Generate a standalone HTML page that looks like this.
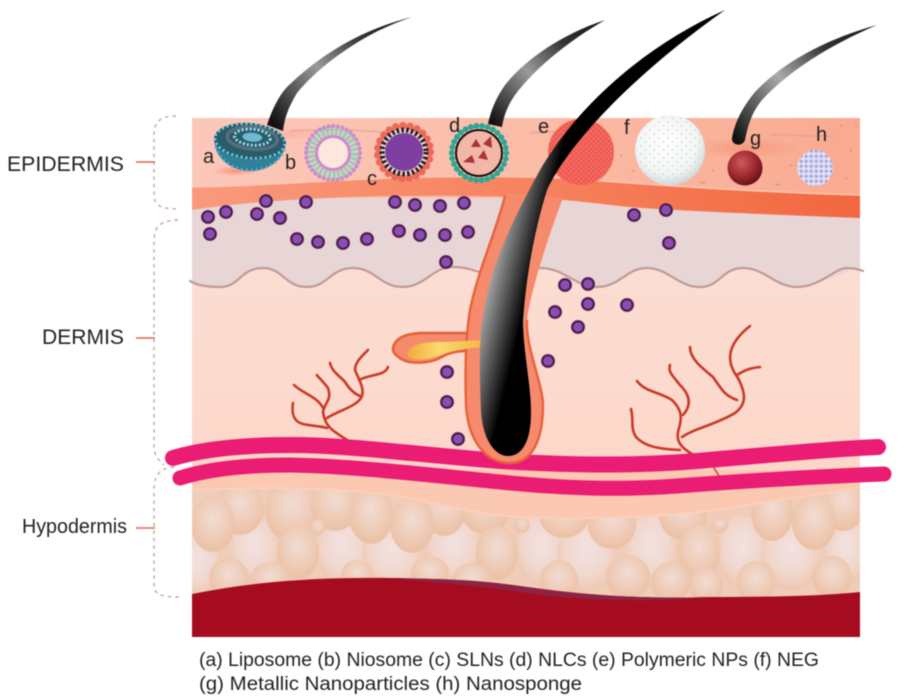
<!DOCTYPE html>
<html><head><meta charset="utf-8"><style>
html,body{margin:0;padding:0;background:#fff;width:900px;height:700px;overflow:hidden}
svg{display:block;filter:blur(.45px)}
text{font-family:"Liberation Sans",sans-serif;fill:#222}
</style></head><body>
<svg width="900" height="700" viewBox="0 0 900 700" xmlns="http://www.w3.org/2000/svg">
<defs>
<linearGradient id="ep" x1="0" y1="0" x2="1" y2="0"><stop offset="0" stop-color="#fcc8ba"/><stop offset=".5" stop-color="#fbbda8"/><stop offset="1" stop-color="#f9aa90"/></linearGradient>
<linearGradient id="band" x1="0" y1="0" x2="1" y2="0"><stop offset="0" stop-color="#f99a7c"/><stop offset=".5" stop-color="#f7835f"/><stop offset="1" stop-color="#f2673f"/></linearGradient>
<linearGradient id="der" x1="0" y1="0" x2="0" y2="1"><stop offset="0" stop-color="#fde0d7"/><stop offset="1" stop-color="#fcd6c7"/></linearGradient>
<radialGradient id="b" cx=".5" cy=".4" r=".55"><stop offset="0" stop-color="#f2dcd4"/><stop offset=".6" stop-color="#efcdb9"/><stop offset="1" stop-color="#ecc2a7"/></radialGradient>
<radialGradient id="b2" cx=".5" cy=".42" r=".55"><stop offset="0" stop-color="#f3e2e2"/><stop offset=".65" stop-color="#f1d7cd"/><stop offset="1" stop-color="#eec9b3"/></radialGradient>
<linearGradient id="hair" gradientUnits="userSpaceOnUse" x1="474" y1="335" x2="516" y2="345"><stop offset="0" stop-color="#aeaeae"/><stop offset=".4" stop-color="#6a6a6a"/><stop offset="1" stop-color="#000"/></linearGradient>
<linearGradient id="h1" gradientUnits="userSpaceOnUse" x1="275" y1="125" x2="410" y2="17"><stop offset="0" stop-color="#111"/><stop offset=".4" stop-color="#999"/><stop offset=".7" stop-color="#333"/><stop offset="1" stop-color="#111"/></linearGradient>
<linearGradient id="h2" gradientUnits="userSpaceOnUse" x1="495" y1="125" x2="605" y2="20"><stop offset="0" stop-color="#111"/><stop offset=".4" stop-color="#999"/><stop offset=".7" stop-color="#333"/><stop offset="1" stop-color="#111"/></linearGradient>
<linearGradient id="h3" gradientUnits="userSpaceOnUse" x1="737" y1="140" x2="877" y2="25"><stop offset="0" stop-color="#111"/><stop offset=".4" stop-color="#aaa"/><stop offset=".7" stop-color="#333"/><stop offset="1" stop-color="#111"/></linearGradient>
<linearGradient id="gl" x1="0" y1="0" x2="1" y2="0"><stop offset="0" stop-color="#f4a93a"/><stop offset=".4" stop-color="#fbd96f"/><stop offset="1" stop-color="#f5b642"/></linearGradient>
<radialGradient id="gball" cx=".4" cy=".35" r=".7"><stop offset="0" stop-color="#d0595c"/><stop offset=".55" stop-color="#a12a30"/><stop offset="1" stop-color="#5f0d14"/></radialGradient>
<radialGradient id="golf" cx=".45" cy=".4" r=".62"><stop offset="0" stop-color="#fff"/><stop offset=".7" stop-color="#f3f5f5"/><stop offset="1" stop-color="#cfd8da"/></radialGradient>
<pattern id="gd" width="9" height="8" patternUnits="userSpaceOnUse"><circle cx="2" cy="2" r=".9" fill="#cfd6da"/><circle cx="6.5" cy="6" r=".9" fill="#cfd6da"/></pattern>
<pattern id="rd" width="5" height="5" patternUnits="userSpaceOnUse"><rect width="5" height="5" fill="#ef5a50"/><circle cx="1.2" cy="1.2" r=".9" fill="#f6817a"/><circle cx="3.7" cy="3.7" r=".9" fill="#f6817a"/></pattern>
<pattern id="bd" width="5" height="5" patternUnits="userSpaceOnUse"><rect width="5" height="5" fill="#d3d2ef"/><circle cx="1.2" cy="1.2" r="1" fill="#7f82d2"/><circle cx="3.7" cy="3.7" r="1" fill="#f4f2fb"/></pattern>
<clipPath id="fat"><path d="M192,490 C280,486 340,489 390,495 C450,505 480,517 540,518 C620,520 700,515 760,503 L860,488 L860,600 L192,600Z"/></clipPath>
<radialGradient id="glow"><stop offset="0" stop-color="#f2684a" stop-opacity=".55"/><stop offset="1" stop-color="#f2684a" stop-opacity="0"/></radialGradient>
<g id="p"><circle r="7.4" fill="#c9857f" opacity=".5"/><circle r="5.8" fill="#8a4db0" stroke="#46194f" stroke-width="2"/></g>
</defs>

<!-- dermis base -->
<rect x="192" y="190" width="668" height="320" fill="url(#der)"/>
<!-- hypodermis -->
<rect x="192" y="470" width="668" height="130" fill="#fbc9b1"/>
<g clip-path="url(#fat)">
<rect x="192" y="480" width="668" height="125" fill="#efcdb9"/>
<g fill="url(#b2)">
<ellipse cx="254" cy="550" rx="25" ry="34"/><ellipse cx="343" cy="550" rx="27" ry="36"/><ellipse cx="392" cy="555" rx="30" ry="36"/><ellipse cx="453" cy="548" rx="27" ry="36"/><ellipse cx="541" cy="550" rx="25" ry="36"/><ellipse cx="587" cy="555" rx="30" ry="38"/><ellipse cx="651" cy="550" rx="26" ry="36"/><ellipse cx="742" cy="552" rx="25" ry="36"/><ellipse cx="791" cy="555" rx="30" ry="36"/><ellipse cx="846" cy="550" rx="22" ry="35"/><ellipse cx="196" cy="565" rx="25" ry="32"/>
</g>
<g fill="url(#b)">
<ellipse cx="240" cy="508" rx="24" ry="27"/><ellipse cx="292" cy="510" rx="27" ry="32"/><ellipse cx="335" cy="505" rx="24" ry="26"/><ellipse cx="371" cy="515" rx="22" ry="29"/><ellipse cx="444" cy="510" rx="22" ry="26"/><ellipse cx="485" cy="510" rx="24" ry="24"/><ellipse cx="564" cy="515" rx="25" ry="23"/><ellipse cx="683" cy="515" rx="24" ry="25"/><ellipse cx="772" cy="513" rx="21" ry="28"/><ellipse cx="843" cy="505" rx="22" ry="26"/><ellipse cx="318" cy="527" rx="8" ry="8"/><ellipse cx="522" cy="525" rx="8" ry="8"/><ellipse cx="720" cy="525" rx="8" ry="8"/>
<ellipse cx="213" cy="524" rx="22" ry="28"/><ellipse cx="412" cy="525" rx="22" ry="28"/><ellipse cx="612" cy="525" rx="24" ry="24"/><ellipse cx="814" cy="522" rx="22" ry="28"/>
<ellipse cx="298" cy="552" rx="21" ry="27"/><ellipse cx="497" cy="553" rx="21" ry="27"/><ellipse cx="699" cy="552" rx="21" ry="28"/>
<ellipse cx="229" cy="578" rx="20" ry="20"/><ellipse cx="270" cy="580" rx="20" ry="18"/><ellipse cx="357" cy="575" rx="16" ry="15"/><ellipse cx="430" cy="573" rx="19" ry="17"/><ellipse cx="472" cy="580" rx="20" ry="17"/><ellipse cx="559" cy="580" rx="19" ry="20"/><ellipse cx="628" cy="577" rx="22" ry="22"/><ellipse cx="671" cy="582" rx="20" ry="20"/><ellipse cx="706" cy="585" rx="17" ry="18"/><ellipse cx="756" cy="582" rx="20" ry="21"/><ellipse cx="832" cy="577" rx="20" ry="21"/>
</g></g>
<path d="M192,490 C280,486 340,489 390,495 C450,505 480,517 540,518 C620,520 700,515 760,503 L860,488" fill="none" stroke="#fdd2bd" stroke-width="1.5"/>
<!-- dark red -->
<path d="M192,594 C260,580 330,577 390,578 C450,579 480,580 527,587 C590,596 650,599 710,597 C770,597 820,596 860,592 L860,637 L192,637Z" fill="#a60c20"/>
<path d="M390,578 C450,579 480,580 527,587 C590,596 650,599 710,597 C660,602 590,602 527,593 C480,586 440,583 390,578Z" fill="#8c2344"/>

<!-- gray layer -->
<path d="M192,205 C280,198 400,194 500,195 C600,198 700,210 860,215 L860,269 C848,268 820,287 797,287 C775,287 765,268 743,268 C722,268 720,287 700,287 C678,287 668,268 647,268 C626,268 620,287 597,287 C575,287 565,268 543,268 L453,268 C432,268 425,287 403,287 C380,287 375,268 353,268 C330,268 328,287 307,287 C285,287 283,268 263,268 C240,268 240,287 220,287 C205,287 197,285 192,281Z" fill="#e8d6d7"/>
<path d="M190,281 C197,285 205,287 220,287 C240,287 240,268 263,268 C283,268 285,287 307,287 C328,287 330,268 353,268 C375,268 380,287 403,287 C425,287 432,267 453,267 C465,267 472,270 480,272 M540,268 C565,268 575,287 597,287 C620,287 626,268 647,268 C668,268 678,287 700,287 C720,287 722,268 743,268 C765,268 775,287 797,287 C820,287 835,268 847,268 C853,268 858,269 863,271" fill="none" stroke="#bf9a96" stroke-width="2.2" stroke-linecap="round"/>

<!-- epidermis -->
<rect x="192" y="118" width="668" height="80" fill="url(#ep)"/>
<ellipse cx="745" cy="148" rx="55" ry="11" fill="url(#glow)" opacity=".6"/>
<ellipse cx="290" cy="134" rx="40" ry="6" fill="url(#glow)" opacity=".3"/>
<path d="M530,133 C560,130 590,133 610,134 M770,135 C790,134 810,137 835,136 M290,131 C320,129 360,130 380,132" stroke="#d89a88" stroke-width="1.5" fill="none" opacity=".6"/>
<path d="M700,182 L705,183 M775,184 L780,185 M790,165 L792,166 M845,178 L847,179 M850,150 L852,151 M712,170 L714,171 M632,170 L634,171 M620,155 L622,156 M855,125 L857,126 M840,125 L842,126 M700,135 L702,135" stroke="#e98a70" stroke-width="1.4"/>
<!-- band -->
<path d="M192,187 C260,186 330,180 390,178 C450,176 510,176 563,178 C640,184 750,192 860,195 L860,218 C760,214 680,211 630,207 C600,204 580,201 540,198 C470,195 420,196 390,196 C330,197 250,201 192,210Z" fill="url(#band)"/>
<path d="M192,187 C260,186 330,180 390,178 C450,176 510,176 563,178 C640,184 750,192 860,195" fill="none" stroke="#fcc8b4" stroke-width="1.5"/>

<!-- small hairs -->
<path d="M412,17 C360,30 320,55 287,87 C278,97 272,110 267,125 L283,131 C285,115 290,105 297,93 C320,65 365,32 412,17Z" fill="url(#h1)"/>
<path d="M605,20 C560,35 525,60 505,85 C496,98 491,110 488,124 L502,127 C504,115 508,105 515,95 C535,68 570,40 605,20Z" fill="url(#h2)"/>
<path d="M877,25 C830,38 785,60 755,92 C745,104 735,120 732,138 C731,146 743,147 745,140 C748,125 752,112 762,100 C790,70 830,45 877,25Z" fill="url(#h3)"/>

<!-- capillaries -->
<g fill="none" stroke="#c93a28" stroke-linecap="round">
<g stroke-width="2.6">
<path d="M347,440 C335,432 325,428 323,412 C325,402 332,400 328,388 C322,380 316,375 317,375"/>
<path d="M327,418 C340,410 355,407 361,398 C366,390 358,378 355,370 C355,362 362,356 368,350"/>
<path d="M330,363 C332,372 340,376 345,382 C350,390 355,394 360,396"/>
<path d="M359,380 C370,374 385,376 388,367"/>
<path d="M294,385 C302,393 318,397 323,408"/>
<path d="M293,403 C291,415 295,422 303,424 C312,426 320,426 327,428"/>
<path d="M637,381 C645,392 660,392 672,400 C680,408 683,415 679,428 C675,440 680,447 692,454"/>
<path d="M683,415 C692,405 690,395 680,385 C672,375 668,372 670,365"/>
<path d="M682,437 C695,428 715,425 735,413 C748,403 745,392 738,378 C726,362 726,345 750,326"/>
<path d="M690,347 C690,360 705,370 713,377 C722,390 725,396 737,400"/>
<path d="M737,375 C745,370 750,368 760,367"/>
<path d="M680,450 C660,449 645,447 636,437 C630,428 634,420 631,409"/>
<path d="M712,465 L721,479" stroke-width="1.4"/>
</g></g>

<!-- veins -->
<path d="M173,458 C200,450 240,445 290,445 C350,445 420,455 500,461 C580,466 650,466 720,459 C780,454 830,449 878,447" fill="none" stroke="#ea1c74" stroke-width="16" stroke-linecap="round"/>
<path d="M180,478 C205,470 240,465 290,465 C350,466 420,474 500,482 C560,488 620,491 690,485 C760,480 830,476 884,474" fill="none" stroke="#ea1c74" stroke-width="15" stroke-linecap="round"/>

<!-- gland -->
<path d="M393,348 C395,338 405,334 420,333 L470,333 L475,352 C462,350 450,352 442,357 C430,364 412,364 403,360 C396,356 392,352 393,348Z" fill="#f58a6c" stroke="#e55f35" stroke-width="2.4"/>
<!-- sheath -->
<path d="M507,193 C495,235 478,270 470,310 C465,340 465,375 466,405 C468,440 485,463 510,463 C532,463 543,440 543,405 C543,385 525,345 527,320 C530,295 545,245 563,198Z" fill="#f58a6c"/>
<path d="M505,196 C495,235 478,270 470,310 C465,340 465,375 466,405 C468,440 485,463 510,463 C532,463 543,440 543,405 C543,385 525,345 527,320" fill="none" stroke="#e8613a" stroke-width="2.4"/>
<path d="M408,352 C412,343 425,342 445,342 L485,340 L485,347 C465,348 450,351 438,356 C422,362 405,360 408,352Z" fill="url(#gl)"/>

<!-- e behind main hair -->
<circle cx="581" cy="152" r="33" fill="url(#rd)"/>
<!-- main hair -->
<path d="M725,10 C640,48 575,110 540,170 C510,225 488,270 481,330 C479,355 480,385 481,412 C483,440 495,456 508,456 C523,456 531,440 531,412 C531,385 523,350 523,320 C526,280 533,235 547,190 C570,140 640,70 725,10Z" fill="url(#hair)"/>

<!-- a liposome -->
<ellipse cx="235" cy="171" rx="24" ry="5" fill="url(#glow)"/>
<path d="M214,140 C216,162 235,171 250,171 C270,171 286,158 286,140 Z" fill="#2e8199"/>
<g transform="rotate(5 250 141)">
<ellipse cx="250" cy="141" rx="36" ry="18" fill="#2a5c6c"/>
<ellipse cx="250" cy="141" rx="35" ry="17" fill="none" stroke="#7fd0e4" stroke-width="2.6" stroke-dasharray="2 2.8"/>
<ellipse cx="252" cy="138" rx="25" ry="11" fill="none" stroke="#56707a" stroke-width="3.5"/>
<ellipse cx="252" cy="137" rx="18" ry="8" fill="none" stroke="#9fdeee" stroke-width="3" stroke-dasharray="2 2"/>
<ellipse cx="252" cy="137" rx="10" ry="4.5" fill="#6fb8cd"/>
</g>
<path d="M216,147 C220,162 236,170 250,170 C268,170 282,160 285,147" fill="none" stroke="#5cb3cc" stroke-width="3" stroke-dasharray="1.5 3.5"/>

<!-- b niosome -->
<circle cx="333" cy="153" r="22.5" fill="none" stroke="#7fd3c4" stroke-width="9" stroke-dasharray="2.5 2.2"/>
<circle cx="333" cy="153" r="27" fill="none" stroke="#cb8ccb" stroke-width="4.2" stroke-dasharray="0 4.71" stroke-linecap="round"/>
<circle cx="333" cy="153" r="16.5" fill="#fde6dc" stroke="#cb8ccb" stroke-width="3"/>

<!-- c -->
<circle cx="404" cy="152" r="26.5" fill="none" stroke="#ee6a58" stroke-width="7.4" stroke-dasharray="0 7.27" stroke-linecap="round"/>
<circle cx="404" cy="152" r="23" fill="#fbd8cc"/>
<circle cx="404" cy="152" r="22" fill="none" stroke="#1c2233" stroke-width="5" stroke-dasharray="2.6 2.2"/>
<circle cx="404" cy="152" r="19" fill="#7e3fa0"/>

<!-- d -->
<circle cx="479" cy="153" r="26.5" fill="none" stroke="#a7d36a" stroke-width="3"/>
<circle cx="479" cy="153" r="27.3" fill="none" stroke="#2ea598" stroke-width="5.8" stroke-dasharray="0 5.72" stroke-linecap="round"/>
<circle cx="479" cy="153" r="23" fill="#f2b7a8" stroke="#1a1010" stroke-width="2"/>
<g fill="#a9343a"><path d="M471,147 L476,139 L481,147Z"/><path d="M491,136 L492,148 L483,144Z"/><path d="M463,162 L472,155 L475,163Z"/><path d="M478,158 L484,150 L488,160Z"/></g>

<circle cx="670" cy="150" r="35" fill="url(#golf)"/>
<circle cx="670" cy="150" r="35" fill="url(#gd)"/>
<circle cx="745" cy="168" r="17.5" fill="url(#gball)"/>
<circle cx="815" cy="168" r="18" fill="url(#bd)"/>

<!-- dots -->
<use href="#p" x="208" y="217"/><use href="#p" x="226" y="212"/><use href="#p" x="210" y="234"/><use href="#p" x="257" y="214"/><use href="#p" x="266" y="201"/><use href="#p" x="280" y="218"/><use href="#p" x="306" y="202"/><use href="#p" x="297" y="239"/><use href="#p" x="318" y="242"/><use href="#p" x="343" y="243"/><use href="#p" x="367" y="239"/><use href="#p" x="395" y="202"/><use href="#p" x="415" y="205"/><use href="#p" x="440" y="206"/><use href="#p" x="464" y="203"/><use href="#p" x="399" y="231"/><use href="#p" x="420" y="235"/><use href="#p" x="445" y="235"/><use href="#p" x="468" y="232"/><use href="#p" x="446" y="262"/>
<use href="#p" x="634" y="215"/><use href="#p" x="666" y="210"/><use href="#p" x="669" y="243"/>
<use href="#p" x="565" y="285"/><use href="#p" x="588" y="284"/><use href="#p" x="588" y="304"/><use href="#p" x="627" y="305"/><use href="#p" x="555" y="312"/><use href="#p" x="578" y="327"/><use href="#p" x="548" y="361"/>
<use href="#p" x="447" y="372"/><use href="#p" x="447" y="402"/><use href="#p" x="458" y="439"/>

<!-- letters -->
<g font-size="20">
<text x="203" y="163">a</text><text x="285" y="169">b</text><text x="367" y="185">c</text><text x="449" y="132">d</text><text x="538" y="133">e</text><text x="624" y="134">f</text><text x="750" y="145">g</text><text x="816" y="141">h</text>
</g>

<!-- braces -->
<g fill="none" stroke="#c9a39d" stroke-width="1.4" stroke-dasharray="3.5 4">
<path d="M176,116 C160,116 154,122 154,135 L154,195 C154,205 160,209 179,209"/>
<path d="M178,220 C162,220 154,226 154,240 L154,445 C154,455 158,460 164,465"/>
<path d="M174,467 C160,468 154,475 154,490 L154,585 C154,594 160,597 179,597"/>
</g>
<g stroke="#df7a62" stroke-width="1.8"><path d="M136,162 H155"/><path d="M136,338 H155"/><path d="M136,528 H155"/></g>
<text x="7" y="171" font-size="21" textLength="117" lengthAdjust="spacingAndGlyphs">EPIDERMIS</text>
<text x="42" y="344" font-size="21" textLength="82" lengthAdjust="spacingAndGlyphs">DERMIS</text>
<text x="22" y="533" font-size="20" textLength="105" lengthAdjust="spacingAndGlyphs">Hypodermis</text>
<text x="199" y="666" font-size="19" textLength="620" lengthAdjust="spacingAndGlyphs">(a) Liposome (b) Niosome (c) SLNs (d) NLCs (e) Polymeric NPs (f) NEG</text>
<text x="199" y="690" font-size="19" textLength="383" lengthAdjust="spacingAndGlyphs">(g) Metallic Nanoparticles (h) Nanosponge</text>
</svg>
</body></html>
